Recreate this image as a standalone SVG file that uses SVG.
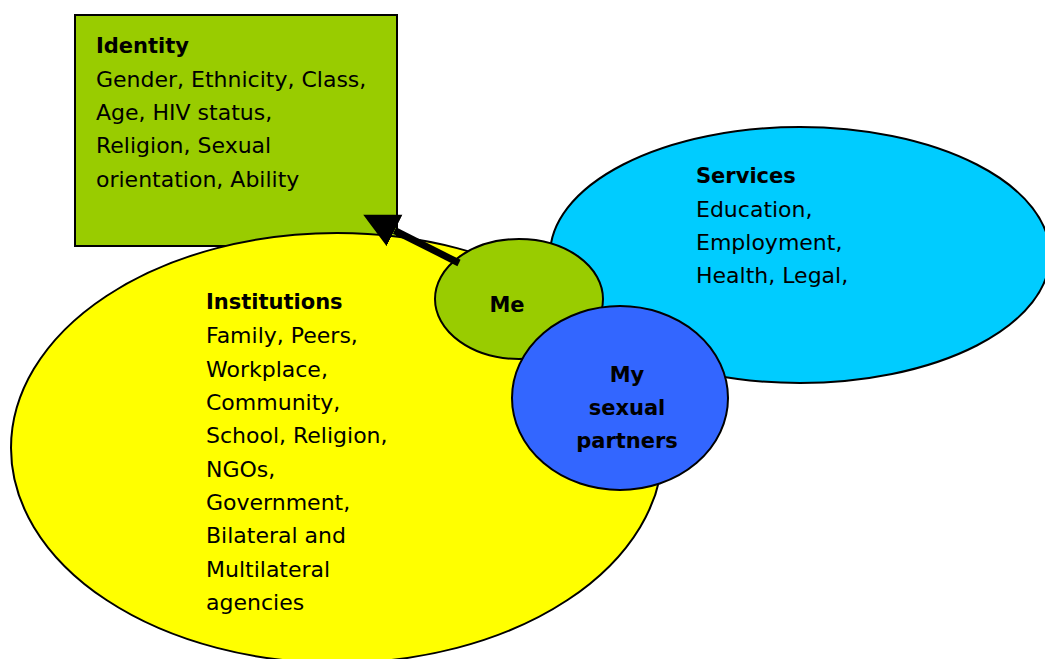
<svg xmlns="http://www.w3.org/2000/svg" width="1045" height="659" viewBox="0 0 1045 659">
<style>
.shape{stroke:#000;stroke-width:2}
text{font-family:"DejaVu Sans","Open Sans",sans-serif;font-size:22px;fill:#000}
.b{font-weight:bold;font-size:21px}
.c{text-anchor:middle}
</style>
<defs>
<marker id="ah" markerUnits="userSpaceOnUse" markerWidth="36" markerHeight="36" refX="0" refY="17.5" orient="auto">
<path d="M0,0 L35,17.5 L0,35 z" fill="#000"/>
</marker>
</defs>
<rect width="1045" height="659" fill="#fff"/>
<g id="identity">
<rect class="shape" x="75" y="15" width="322" height="231" fill="#99CC00"/>
<text x="96" y="53" class="b">Identity</text>
<text x="96" y="87">Gender, Ethnicity, Class,</text>
<text x="96" y="120">Age, HIV status,</text>
<text x="96" y="153">Religion, Sexual</text>
<text x="96" y="187">orientation, Ability</text>
</g>
<g id="institutions">
<ellipse class="shape" cx="337" cy="448" rx="326" ry="215" fill="#FFFF00"/>
<text x="206" y="309" class="b">Institutions</text>
<text x="206" y="343">Family, Peers,</text>
<text x="206" y="377">Workplace,</text>
<text x="206" y="410">Community,</text>
<text x="206" y="443">School, Religion,</text>
<text x="206" y="477">NGOs,</text>
<text x="206" y="510">Government,</text>
<text x="206" y="543">Bilateral and</text>
<text x="206" y="577">Multilateral</text>
<text x="206" y="610">agencies</text>
</g>
<g id="services">
<ellipse class="shape" cx="800" cy="255" rx="250" ry="128" fill="#00CCFF"/>
<text x="696" y="183" class="b">Services</text>
<text x="696" y="217">Education,</text>
<text x="696" y="250">Employment,</text>
<text x="696" y="283">Health, Legal,</text>
</g>
<g id="me">
<ellipse class="shape" cx="519" cy="299" rx="84" ry="60" fill="#99CC00"/>
<text x="507" y="312" class="b c">Me</text>
</g>
<g id="partners">
<ellipse class="shape" cx="620" cy="398" rx="108" ry="92" fill="#3366FF"/>
<text x="627" y="382" class="b c">My</text>
<text x="627" y="415" class="b c">sexual</text>
<text x="627" y="448" class="b c">partners</text>
</g>
<g id="connectors">
<line x1="459" y1="263" x2="394.5" y2="230.5" stroke="#000" stroke-width="7" marker-end="url(#ah)"/>
</g>
</svg>
